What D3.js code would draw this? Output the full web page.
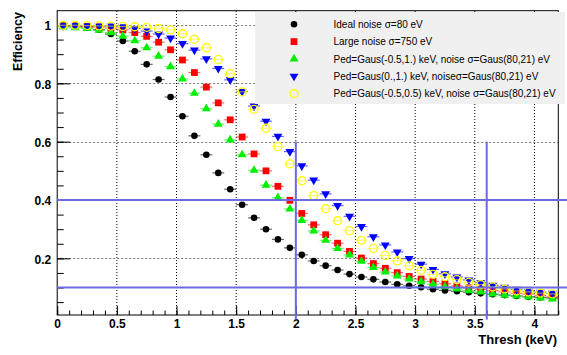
<!DOCTYPE html>
<html><head><meta charset="utf-8">
<script src="https://cdn.jsdelivr.net/npm/d3@7"></script>
<style>body{margin:0;background:#fff}svg{display:block}text{font-family:"Liberation Sans",Arial,sans-serif}</style>
</head><body><svg id="c" width="567" height="355"></svg>
<script>
const thresholds = d3.range(42).map(k => +(0.05 + 0.1 * k).toFixed(2));
const seriesNames = ["Ideal noise σ=80 eV","Large noise σ=750 eV","Ped=Gaus(-0.5,1.) keV, noise σ=Gaus(80,21) eV","Ped=Gaus(0.,1.) keV, noiseσ=Gaus(80,21) eV","Ped=Gaus(-0.5,0.5) keV, noise σ=Gaus(80,21) eV"];
const idealNoise = [0.998,0.997,0.993,0.984,0.969,0.945,0.910,0.865,0.813,0.753,0.687,0.620,0.555,0.493,0.437,0.384,0.339,0.300,0.265,0.236,0.212,0.191,0.175,0.160,0.146,0.136,0.128,0.119,0.111,0.106,0.101,0.094,0.090,0.087,0.084,0.080,0.077,0.074,0.071,0.068,0.066,0.064];
const largeNoise = [0.998,0.997,0.995,0.993,0.989,0.983,0.974,0.961,0.941,0.915,0.880,0.837,0.787,0.733,0.675,0.616,0.558,0.500,0.447,0.399,0.354,0.315,0.281,0.252,0.224,0.201,0.182,0.166,0.151,0.138,0.129,0.121,0.113,0.105,0.099,0.094,0.089,0.085,0.080,0.077,0.072,0.068];
const pedM05W1 = [0.993,0.991,0.988,0.982,0.974,0.962,0.946,0.922,0.893,0.857,0.815,0.766,0.713,0.660,0.606,0.555,0.502,0.451,0.408,0.369,0.330,0.294,0.262,0.234,0.212,0.190,0.169,0.153,0.140,0.129,0.120,0.111,0.103,0.095,0.089,0.085,0.078,0.074,0.071,0.068,0.064,0.061];
const ped0W1 = [0.998,0.998,0.997,0.996,0.996,0.994,0.988,0.979,0.969,0.955,0.936,0.914,0.884,0.851,0.812,0.772,0.722,0.670,0.618,0.566,0.517,0.468,0.421,0.381,0.344,0.309,0.274,0.246,0.222,0.199,0.180,0.162,0.147,0.136,0.126,0.116,0.108,0.101,0.094,0.087,0.084,0.080];
const pedM05W05 = [0.999,0.999,0.998,0.997,0.996,0.995,0.994,0.992,0.988,0.983,0.970,0.951,0.922,0.882,0.833,0.771,0.711,0.646,0.583,0.524,0.466,0.415,0.370,0.329,0.295,0.262,0.234,0.210,0.191,0.174,0.159,0.145,0.137,0.127,0.118,0.110,0.102,0.095,0.088,0.085,0.081,0.078];
const xTickLabels = [0,0.5,1,1.5,2,2.5,3,3.5,4];
const yTickLabels = [0.2,0.4,0.6,0.8,1];
const hLines = [0.4, 0.1];
const vLines = [2, 3.6];

const allSeries = [idealNoise, largeNoise, pedM05W1, ped0W1, pedM05W05];
const styles = [
  {color:"#000000", shape:"circle"},
  {color:"#ff0000", shape:"square"},
  {color:"#00f000", shape:"tri"},
  {color:"#0000ff", shape:"tridown"},
  {color:"#ffff00", shape:"open"}
];

const svg = d3.select("#c");
const X0=57.2, X1=558.3, Y0=315, Y1=10.7;
const x = d3.scaleLinear().domain([0,4.2]).range([X0,X1]);
const y = d3.scaleLinear().domain([0.0058,1.049]).range([Y0,Y1]);

// grid
const g = svg.append("g");
g.selectAll(".vg").data(xTickLabels.filter(d=>d>0)).join("line")
  .attr("x1",d=>x(d)).attr("x2",d=>x(d)).attr("y1",Y0).attr("y2",Y1)
  .attr("stroke","#000").attr("stroke-width",1).attr("stroke-dasharray","1,2");
g.selectAll(".hg").data(yTickLabels).join("line")
  .attr("x1",X0).attr("x2",X1).attr("y1",d=>Math.round(y(d))+0.5).attr("y2",d=>Math.round(y(d))+0.5)
  .attr("stroke","#777").attr("stroke-width",1).attr("stroke-dasharray","2,2");

// axes (inward ticks)
const xMinor = d3.range(0,4.21,0.1).map(v=>+v.toFixed(2));
const yMinor = d3.range(0.05,1.049,0.05).map(v=>+v.toFixed(2));
const xa = d3.axisBottom(x).tickValues(xMinor).tickSize(-4.5).tickFormat("");
svg.append("g").attr("transform",`translate(0,${Y0})`).call(xa).call(s=>s.select(".domain").remove()).selectAll("line").attr("stroke","#000");
const xaM = d3.axisBottom(x).tickValues(xTickLabels).tickSize(-9).tickPadding(4).tickFormat(d3.format("~g"));
const xg = svg.append("g").attr("transform",`translate(0,${Y0})`).call(xaM);
xg.select(".domain").remove();
xg.selectAll("line").attr("stroke","#000");
xg.selectAll("text").attr("font-size",12).attr("font-weight","bold").attr("fill","#000").attr("font-family","Liberation Sans, Arial, sans-serif");
const ya = d3.axisLeft(y).tickValues(yMinor).tickSize(-6.5).tickFormat("");
svg.append("g").attr("transform",`translate(${X0},0)`).call(ya).call(s=>s.select(".domain").remove()).selectAll("line").attr("stroke","#000");
const yaM = d3.axisLeft(y).tickValues(yTickLabels).tickSize(-13).tickPadding(6).tickFormat(d3.format("~g"));
const yg = svg.append("g").attr("transform",`translate(${X0},0)`).call(yaM);
yg.select(".domain").remove();
yg.selectAll("line").attr("stroke","#000");
yg.selectAll("text").attr("font-size",12).attr("font-weight","bold").attr("fill","#000").attr("font-family","Liberation Sans, Arial, sans-serif").attr("dy","0.4em");

// frame
svg.append("rect").attr("x",X0).attr("y",Y1).attr("width",X1-X0).attr("height",Y0-Y1)
  .attr("fill","none").attr("stroke","#000").attr("stroke-width",1);

// data
const sym = {
  circle: d3.symbol().type(d3.symbolCircle).size(34),
  square: d3.symbol().type(d3.symbolSquare).size(46),
  tri: d3.symbol().type(d3.symbolTriangle).size(34),
  open: d3.symbol().type(d3.symbolCircle).size(50)
};
function drawMarker(sel, st){
  if (st.shape==="open") {
    sel.append("path").attr("d",sym.open()).attr("fill","none").attr("stroke",st.color).attr("stroke-width",1.3);
  } else if (st.shape==="tridown") {
    sel.append("path").attr("d",sym.tri()).attr("transform","rotate(180)").attr("fill",st.color);
  } else {
    sel.append("path").attr("d",sym[st.shape]()).attr("fill",st.color);
  }
}
allSeries.forEach((vals,i)=>{
  const st = styles[i];
  const sg = svg.append("g");
  sg.selectAll("line").data(vals).join("line")
    .attr("x1",(d,k)=>x(thresholds[k]-0.05)).attr("x2",(d,k)=>x(thresholds[k]+0.05))
    .attr("y1",d=>y(d)).attr("y2",d=>y(d))
    .attr("stroke",st.color).attr("stroke-opacity",0.6).attr("stroke-width",1.2);
  sg.selectAll("g").data(vals).join("g")
    .attr("transform",(d,k)=>`translate(${x(thresholds[k])},${y(d)})`)
    .each(function(){ drawMarker(d3.select(this), st); });
});

// guide lines
const lc = "#6b6be3";
svg.selectAll(".hl").data(hLines).join("line")
  .attr("x1",x(0)).attr("x2",x(4.3)).attr("y1",d=>y(d)).attr("y2",d=>y(d))
  .attr("stroke",lc).attr("stroke-width",2);
svg.selectAll(".vl").data(vLines).join("line")
  .attr("x1",d=>x(d)).attr("x2",d=>x(d)).attr("y1",y(0.6)).attr("y2",y(-0.01))
  .attr("stroke",lc).attr("stroke-width",2);

// legend
const lg = svg.append("g");
lg.append("rect").attr("x",255).attr("y",12).attr("width",310).attr("height",92).attr("fill","#f0f0f0");
seriesNames.forEach((name,i)=>{
  const yy = 24.3 + i*17.3;
  const mg = lg.append("g").attr("transform",`translate(294,${yy})`);
  drawMarker(mg, styles[i]);
  lg.append("text").attr("x",333.5).attr("y",yy+3.6).attr("font-size",10).attr("fill","#000").text(name);
});

// titles
svg.append("text").attr("x",557).attr("y",344).attr("text-anchor","end").attr("font-size",13).attr("font-weight","bold").text("Thresh (keV)");
svg.append("text").attr("transform","translate(22,12) rotate(-90)").attr("text-anchor","end").attr("font-size",12.5).attr("font-weight","bold").text("Efficiency");
</script></body></html>
